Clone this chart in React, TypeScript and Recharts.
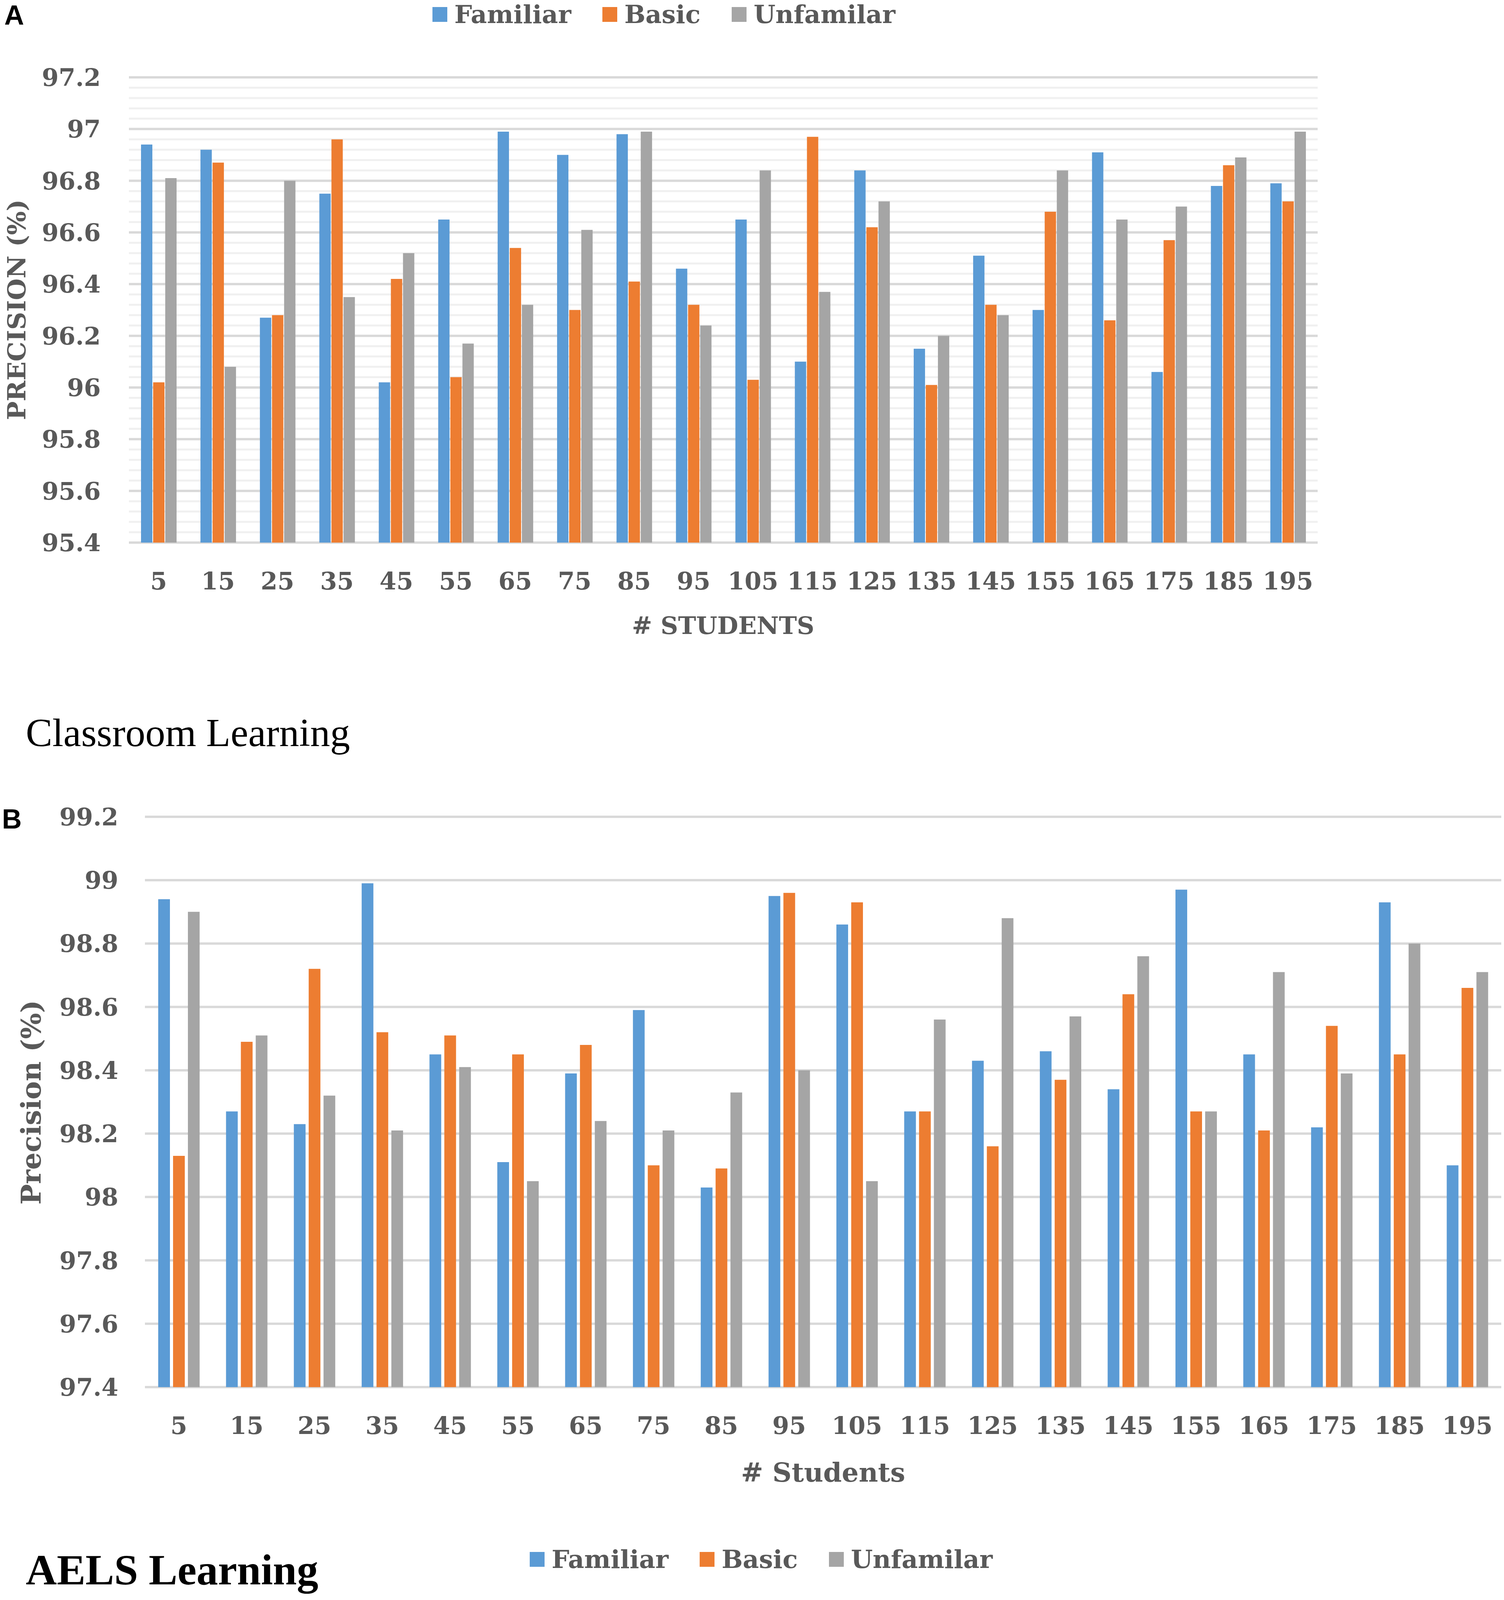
import React from 'react';
import { BarChart, Bar, XAxis, YAxis, CartesianGrid, Legend } from 'recharts';

// # students on the x axis (shared by both panels)
const students = [5, 15, 25, 35, 45, 55, 65, 75, 85, 95, 105, 115, 125, 135, 145, 155, 165, 175, 185, 195];

// Panel A - Classroom Learning, precision (%)
const classFamiliar = [96.94, 96.92, 96.27, 96.75, 96.02, 96.65, 96.99, 96.9, 96.98, 96.46, 96.65, 96.1, 96.84, 96.15, 96.51, 96.3, 96.91, 96.06, 96.78, 96.79];
const classBasic = [96.02, 96.87, 96.28, 96.96, 96.42, 96.04, 96.54, 96.3, 96.41, 96.32, 96.03, 96.97, 96.62, 96.01, 96.32, 96.68, 96.26, 96.57, 96.86, 96.72];
const classUnfamiliar = [96.81, 96.08, 96.8, 96.35, 96.52, 96.17, 96.32, 96.61, 96.99, 96.24, 96.84, 96.37, 96.72, 96.2, 96.28, 96.84, 96.65, 96.7, 96.89, 96.99];

// Panel B - AELS Learning, precision (%)
const aelsFamiliar = [98.94, 98.27, 98.23, 98.99, 98.45, 98.11, 98.39, 98.59, 98.03, 98.95, 98.86, 98.27, 98.43, 98.46, 98.34, 98.97, 98.45, 98.22, 98.93, 98.1];
const aelsBasic = [98.13, 98.49, 98.72, 98.52, 98.51, 98.45, 98.48, 98.1, 98.09, 98.96, 98.93, 98.27, 98.16, 98.37, 98.64, 98.27, 98.21, 98.54, 98.45, 98.66];
const aelsUnfamiliar = [98.9, 98.51, 98.32, 98.21, 98.41, 98.05, 98.24, 98.21, 98.33, 98.4, 98.05, 98.56, 98.88, 98.57, 98.76, 98.27, 98.71, 98.39, 98.8, 98.71];

// y axis ticks
const classTicks = [95.4, 95.6, 95.8, 96, 96.2, 96.4, 96.6, 96.8, 97, 97.2];
const aelsTicks = [97.4, 97.6, 97.8, 98, 98.2, 98.4, 98.6, 98.8, 99, 99.2];

const seriesNames = ['Familiar', 'Basic', 'Unfamilar'];
const seriesKeys = ['familiar', 'basic', 'unfamiliar'];
const seriesColors = ['#5B9BD5', '#ED7D31', '#A5A5A5'];

const classData = students.map((s, i) => ({
  students: String(s),
  familiar: classFamiliar[i],
  basic: classBasic[i],
  unfamiliar: classUnfamiliar[i],
}));

const aelsData = students.map((s, i) => ({
  students: String(s),
  familiar: aelsFamiliar[i],
  basic: aelsBasic[i],
  unfamiliar: aelsUnfamiliar[i],
}));

// light minor gridlines every 0.04 on panel A
const classMinor: number[] = [];
for (let k = 1; k < 45; k++) {
  if (k % 5 !== 0) classMinor.push(Math.round((95.4 + k * 0.04) * 100) / 100);
}

const SERIF = '"DejaVu Serif", serif';
const GREY_TEXT = '#595959';
const tickStyle = { fill: GREY_TEXT, fontSize: 62, fontFamily: SERIF, fontWeight: 'bold' };

function LegendRow() {
  return (
    <div
      style={{
        display: 'flex',
        alignItems: 'center',
        fontFamily: SERIF,
        fontWeight: 'bold',
        fontSize: 64,
        color: GREY_TEXT,
        whiteSpace: 'nowrap',
        lineHeight: '70px',
      }}
    >
      {seriesNames.map((name, i) => (
        <div key={name} style={{ display: 'flex', alignItems: 'center', marginRight: 80 }}>
          <span style={{ display: 'inline-block', width: 38, height: 38, background: seriesColors[i], marginRight: 18 }} />
          <span>{name}</span>
        </div>
      ))}
    </div>
  );
}

const fmt = (v: number) => String(v);

export default function App() {
  return (
    <div style={{ position: 'absolute', left: 0, top: 0, width: 3850, height: 4090, background: '#fff', overflow: 'hidden' }}>
      {/* Panel A */}
      <div style={{ position: 'absolute', left: 0, top: 0 }}>
        <BarChart
          width={3850}
          height={1700}
          data={classData}
          margin={{ top: 198, right: 477, bottom: 211, left: 80 }}
          barGap={2}
          barSize={29}
        >
          <CartesianGrid vertical={false} horizontalValues={classMinor} stroke="#F0F0F0" strokeWidth={5} />
          <CartesianGrid vertical={false} horizontalValues={classTicks} stroke="#D9D9D9" strokeWidth={6} />
          <XAxis
            dataKey="students"
            interval={0}
            axisLine={false}
            tickLine={false}
            tickSize={0}
            tickMargin={76}
            height={100}
            tick={tickStyle}
          />
          <YAxis
            domain={[95.4, 97.2]}
            ticks={classTicks}
            allowDataOverflow
            axisLine={false}
            tickLine={false}
            tickSize={0}
            tickMargin={72}
            width={250}
            tick={tickStyle}
            tickFormatter={fmt}
          />
          <Legend
            layout="horizontal"
            verticalAlign="middle"
            align="center"
            content={<LegendRow />}
            wrapperStyle={{ top: 2, left: 1107, width: 'auto' }}
          />
          {seriesKeys.map((k, i) => (
            <Bar key={k} dataKey={k} name={seriesNames[i]} fill={seriesColors[i]} isAnimationActive={false} />
          ))}
        </BarChart>
      </div>

      {/* Panel B */}
      <div style={{ position: 'absolute', left: 0, top: 1950 }}>
        <BarChart
          width={3850}
          height={2100}
          data={aelsData}
          margin={{ top: 141, right: 7, bottom: 399, left: 121 }}
          barGap={8}
          barSize={30}
        >
          <CartesianGrid vertical={false} horizontalValues={aelsTicks} stroke="#D9D9D9" strokeWidth={6} />
          <XAxis
            dataKey="students"
            interval={0}
            axisLine={false}
            tickLine={false}
            tickSize={0}
            tickMargin={76}
            height={100}
            tick={tickStyle}
          />
          <YAxis
            domain={[97.4, 99.2]}
            ticks={aelsTicks}
            allowDataOverflow
            axisLine={false}
            tickLine={false}
            tickSize={0}
            tickMargin={68}
            width={250}
            tick={tickStyle}
            tickFormatter={fmt}
          />
          <Legend
            layout="horizontal"
            verticalAlign="middle"
            align="center"
            content={<LegendRow />}
            wrapperStyle={{ top: 2007, left: 1356, width: 'auto' }}
          />
          {seriesKeys.map((k, i) => (
            <Bar key={k} dataKey={k} name={seriesNames[i]} fill={seriesColors[i]} isAnimationActive={false} />
          ))}
        </BarChart>
      </div>

      {/* titles, panel letters and captions */}
      <svg
        width={3850}
        height={4090}
        style={{ position: 'absolute', left: 0, top: 0, pointerEvents: 'none' }}
      >
        <text x={11} y={63} fontFamily='"Liberation Sans", Arial, sans-serif' fontWeight="bold" fontSize={70} fill="#000">
          A
        </text>
        <text x={5} y={2121} fontFamily='"Liberation Sans", Arial, sans-serif' fontWeight="bold" fontSize={70} fill="#000">
          B
        </text>
        <text
          x={65}
          y={793}
          transform="rotate(-90 65 793)"
          textAnchor="middle"
          fontFamily={SERIF}
          fontWeight="bold"
          fontSize={64}
          fill={GREY_TEXT}
        >
          PRECISION (%)
        </text>
        <text x={1851} y={1623} textAnchor="middle" fontFamily={SERIF} fontWeight="bold" fontSize={62} fill={GREY_TEXT}>
          # STUDENTS
        </text>
        <text
          x={104}
          y={2822}
          transform="rotate(-90 104 2822)"
          textAnchor="middle"
          fontFamily={SERIF}
          fontWeight="bold"
          fontSize={70}
          fill={GREY_TEXT}
        >
          Precision (%)
        </text>
        <text x={2107} y={3793} textAnchor="middle" fontFamily={SERIF} fontWeight="bold" fontSize={68} fill={GREY_TEXT}>
          # Students
        </text>
        <text x={66} y={1910} fontFamily='"Liberation Serif", "Times New Roman", serif' fontSize={102} fill="#000">
          Classroom Learning
        </text>
        <text x={66} y={4056} fontFamily='"Liberation Serif", "Times New Roman", serif' fontWeight="bold" fontSize={110} fill="#000">
          AELS Learning
        </text>
      </svg>
    </div>
  );
}
